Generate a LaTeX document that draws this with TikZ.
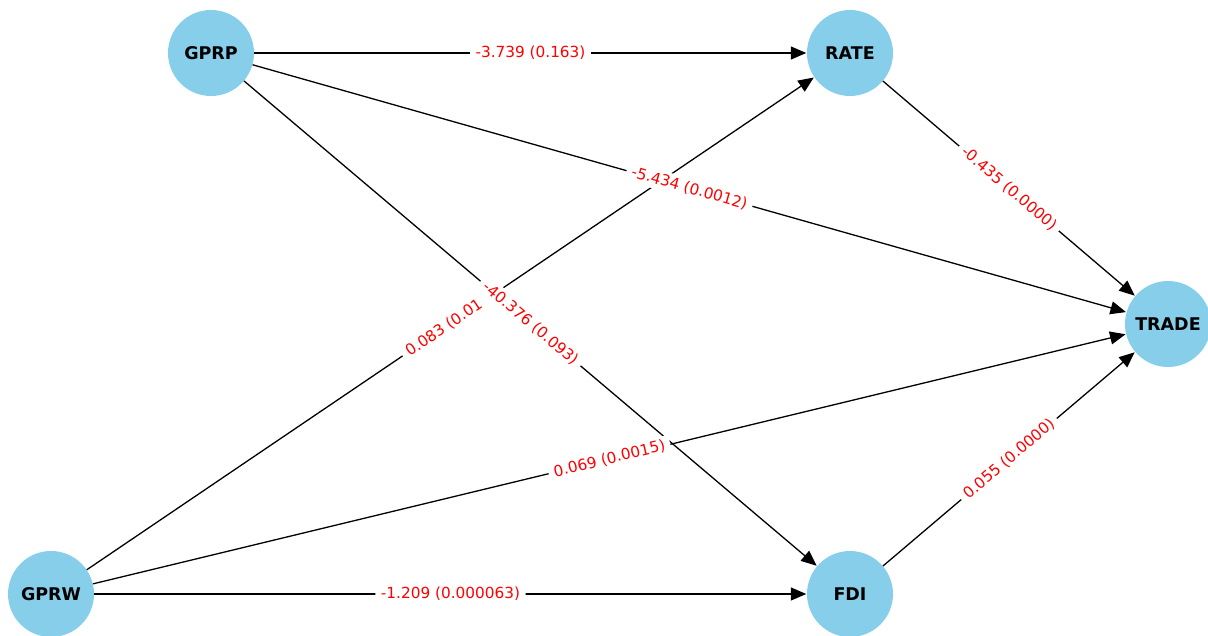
\documentclass[tikz,border=0pt]{standalone}
\usepackage{fontspec}
\setmainfont{DejaVu Sans}
\usetikzlibrary{arrows.meta}
\definecolor{skyblue}{HTML}{87CEEB}
\begin{document}
\begin{tikzpicture}[x=1pt,y=-1pt,
  vert/.style={circle,fill=skyblue,draw=none,minimum size=86pt,inner sep=0pt,
    font=\fontsize{17.5}{20}\selectfont\bfseries},
  edge/.style={line width=1.3pt,black,-{Triangle[length=15.5pt,width=13pt]},shorten >=0.5pt},
  lab/.style={midway,sloped,fill=white,text=red,inner xsep=5.5pt,inner ysep=3pt,
    rounded corners=3pt,font=\fontsize{15.3}{18}\selectfont}]
\useasboundingbox (0,0) rectangle (1208,636);
\clip (0,0) rectangle (1208,636);
\node[vert] (GPRP) at (211,53) {GPRP};
\node[vert] (RATE) at (850,53) {RATE};
\node[vert] (TRADE) at (1168,324) {TRADE};
\node[vert] (GPRW) at (51,594) {GPRW};
\node[vert] (FDI) at (850,594) {FDI};
% edges
\draw[edge] (GPRP) -- (RATE);
\draw[edge] (GPRP) -- (TRADE);
\draw[edge] (GPRP) -- (FDI);
\draw[edge] (GPRW) -- (RATE);
\draw[edge] (GPRW) -- (TRADE);
\draw[edge] (GPRW) -- (FDI);
\draw[edge] (RATE) -- (TRADE);
\draw[edge] (FDI) -- (TRADE);
% labels
\path (GPRP) -- (RATE) node[lab] (l1) {-3.739 (0.163)};
\path (GPRP) -- (TRADE) node[lab] (l2) {-5.434 (0.0012)};
\path (GPRW) -- (RATE) node[lab] (l4) {0.083 (0.01\phantom{0)}};
\path (GPRP) -- (FDI) node[lab] (l3) {-40.376 (0.093)};
\path (GPRW) -- (TRADE) node[lab] (l5) {0.069 (0.0015)};
\path (GPRW) -- (FDI) node[lab] (l6) {-1.209 (0.000063)};
\path (RATE) -- (TRADE) node[lab] (l7) {-0.435 (0.0000)};
\path (FDI) -- (TRADE) node[lab] (l8) {0.055 (0.0000)};
\end{tikzpicture}
\end{document}
